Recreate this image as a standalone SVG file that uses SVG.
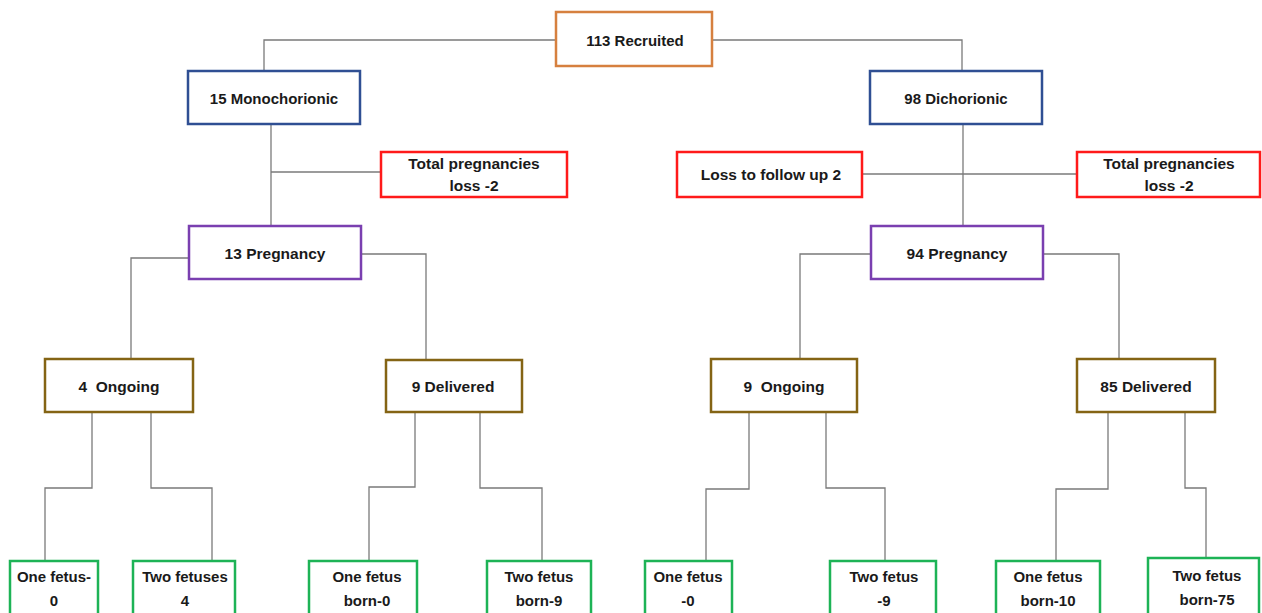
<svg xmlns="http://www.w3.org/2000/svg" width="1262" height="613" viewBox="0 0 1262 613">
<style>
.b{fill:#fff;stroke-width:2.5}
.or{stroke:#d6803f}
.bl{stroke:#2f4f93}
.rd{stroke:#ff1a1a}
.pu{stroke:#7a3fb0}
.go{stroke:#846414}
.gr{stroke:#1db356}
text{font-family:"Liberation Sans",Arial,sans-serif;font-size:15.5px;font-weight:bold;fill:#1a1a1a;text-anchor:middle}
.t{font-size:15px}
.s{font-size:15px}
#connectors path{fill:none;stroke:#7a7a7a;stroke-width:1.3}
</style>
<rect width="1262" height="613" fill="#fff"/>
<g id="connectors">
<path d="M556,40 H264 V71"/>
<path d="M712,40 H962 V71"/>
<path d="M271,124 V226"/>
<path d="M271,172 H381"/>
<path d="M963,124 V226"/>
<path d="M862,174 H1077"/>
<path d="M189,258 H131 V358"/>
<path d="M361,254 H426 V360"/>
<path d="M871,254 H800 V358"/>
<path d="M1043,254 H1119 V358"/>
<path d="M92,412 V488 H45 V561"/>
<path d="M151,412 V488 H212 V561"/>
<path d="M415,412 V487 H369 V560"/>
<path d="M480,412 V488 H542 V560"/>
<path d="M749,412 V489 H706 V560"/>
<path d="M826,412 V488 H885 V560"/>
<path d="M1108,412 V489 H1056 V560"/>
<path d="M1185,412 V488 H1206 V558"/>
</g>
<g id="recruited"><rect class="b or" x="556" y="12" width="156" height="54"/><text class="t" x="635" y="46">113 Recruited</text></g>
<g id="mono"><rect class="b bl" x="188" y="71" width="172" height="53"/><text class="t" x="274" y="104">15 Monochorionic</text></g>
<g id="di"><rect class="b bl" x="870" y="71" width="172" height="53"/><text class="t" x="956" y="104">98 Dichorionic</text></g>
<g id="lossL"><rect class="b rd" x="381" y="152" width="186" height="45"/><text x="474" y="169">Total pregnancies</text><text x="474" y="191">loss -2</text></g>
<g id="lfu"><rect class="b rd" x="677" y="152" width="185" height="45"/><text x="771" y="180">Loss to follow up 2</text></g>
<g id="lossR"><rect class="b rd" x="1077" y="152" width="183" height="45"/><text x="1169" y="169">Total pregnancies</text><text x="1169" y="191">loss -2</text></g>
<g id="preg13"><rect class="b pu" x="189" y="226" width="172" height="53"/><text x="275" y="259">13 Pregnancy</text></g>
<g id="preg94"><rect class="b pu" x="871" y="226" width="172" height="53"/><text x="957" y="259">94 Pregnancy</text></g>
<g id="ong4"><rect class="b go" x="45" y="359" width="148" height="53"/><text x="119" y="392" xml:space="preserve">4  Ongoing</text></g>
<g id="del9"><rect class="b go" x="386" y="360" width="136" height="52"/><text x="453" y="392">9 Delivered</text></g>
<g id="ong9"><rect class="b go" x="711" y="359" width="146" height="53"/><text x="784" y="392" xml:space="preserve">9  Ongoing</text></g>
<g id="del85"><rect class="b go" x="1077" y="359" width="138" height="53"/><text x="1146" y="392">85 Delivered</text></g>
<g id="b1"><rect class="b gr" x="10" y="561" width="88" height="56"/><text class="s" x="54" y="582">One fetus-</text><text class="s" x="54" y="606">0</text></g>
<g id="b2"><rect class="b gr" x="133" y="561" width="102" height="56"/><text class="s" x="185" y="582">Two fetuses</text><text class="s" x="185" y="606">4</text></g>
<g id="b3"><rect class="b gr" x="309" y="561" width="108" height="56"/><text class="s" x="367" y="582">One fetus</text><text class="s" x="367" y="606">born-0</text></g>
<g id="b4"><rect class="b gr" x="487" y="561" width="104" height="56"/><text class="s" x="539" y="582">Two fetus</text><text class="s" x="539" y="606">born-9</text></g>
<g id="b5"><rect class="b gr" x="645" y="561" width="87" height="56"/><text class="s" x="688" y="582">One fetus</text><text class="s" x="688" y="606">-0</text></g>
<g id="b6"><rect class="b gr" x="830" y="561" width="106" height="56"/><text class="s" x="884" y="582">Two fetus</text><text class="s" x="884" y="606">-9</text></g>
<g id="b7"><rect class="b gr" x="996" y="561" width="104" height="56"/><text class="s" x="1048" y="582">One fetus</text><text class="s" x="1048" y="606">born-10</text></g>
<g id="b8"><rect class="b gr" x="1148" y="558" width="111" height="59"/><text class="s" x="1207" y="581">Two fetus</text><text class="s" x="1207" y="605">born-75</text></g>
</svg>
